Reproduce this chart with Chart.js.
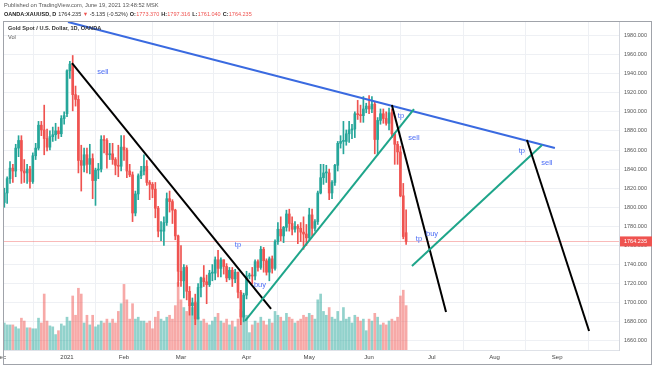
<!DOCTYPE html>
<html>
<head>
<meta charset="utf-8">
<title>XAUUSD daily</title>
<script src="https://cdn.jsdelivr.net/npm/chart.js@4.4.1/dist/chart.umd.min.js"></script>
<style>
  html, body { margin: 0; padding: 0; background: #fff; }
  #wrap { position: relative; width: 654px; height: 366px; }
</style>
</head>
<body>
<div id="wrap"><canvas id="goldChart" width="654" height="366"></canvas></div>
<script>
// bar index 0 = Jan 4 2021, one bar per trading day (Dec 1 2020 .. Jun 18 2021)
const firstBar = -22;

const opens = [
  1805,1815,1830,1841,1838,1862,1870,1838,1836,1840,1827,1854,1862,1886,1881,1872,1863,1874,1876,1880,1877,1893,
  1898,1943,1950,1918,1913,1849,1844,1855,1845,1851,1828,1839,1840,1871,1870,1855,1856,1850,1844,1843,
  1863,1860,1838,1834,1794,1814,1833,1838,1843,1826,1824,1819,1799,1775,1775,1784,1809,1806,1797,1770,
  1733,1723,1737,1712,1697,1700,1683,1716,1726,1722,1719,1731,1731,1745,1736,1745,1738,1726,1734,1725,1732,1711,1685,
  1708,1728,1729,1728,1743,1737,1756,1744,1732,1746,1736,1764,1777,1770,1779,1793,1783,1777,1780,1778,1774,1772,
  1768,1792,1778,1785,1815,1831,1836,1836,1815,1826,1844,1867,1869,1869,1877,1881,1882,1898,1897,1896,1903,
  1906,1903,1908,1871,1891,1898,1893,1888,1899,1877,1866,1858,1812,1773.37
];
const highs = [
  1820,1832,1848,1845,1866,1875,1875,1850,1845,1843,1857,1867,1890,1890,1907,1882,1880,1884,1888,1884,1896,1900,
  1944,1953,1959,1927,1917,1865,1862,1862,1866,1856,1841,1846,1875,1875,1872,1867,1867,1852,1865,1875,
  1875,1862,1845,1837,1817,1835,1843,1855,1849,1828,1826,1826,1801,1785,1790,1815,1817,1808,1798,1771,
  1760,1740,1739,1717,1705,1709,1720,1727,1739,1729,1734,1740,1748,1755,1747,1745,1741,1737,1737,1735,1732,1713,1710,
  1733,1731,1737,1745,1745,1759,1758,1746,1748,1749,1766,1784,1790,1780,1797,1798,1790,1785,1782,1784,1790,1782,
  1799,1798,1787,1817,1845,1845,1844,1840,1828,1845,1869,1875,1890,1881,1890,1887,1900,1912,1907,1916,1909,
  1917,1916,1910,1894,1903,1903,1900,1904,1903,1878,1869,1864,1825,1797.316
];
const lows = [
  1800,1804,1825,1826,1832,1853,1825,1826,1825,1820,1825,1850,1860,1875,1855,1859,1860,1869,1870,1872,1874,1887,
  1895,1935,1901,1906,1836,1817,1837,1836,1835,1809,1802,1830,1837,1857,1841,1850,1845,1834,1832,1838,
  1849,1831,1832,1785,1791,1808,1830,1834,1823,1808,1810,1789,1769,1765,1760,1781,1795,1783,1766,1717,
  1717,1705,1703,1687,1687,1677,1683,1706,1717,1699,1717,1723,1724,1727,1727,1730,1722,1724,1717,1721,1705,1677,1680,
  1704,1725,1720,1724,1733,1735,1732,1729,1723,1731,1734,1761,1765,1763,1775,1775,1771,1774,1762,1764,1756,1760,
  1766,1770,1775,1782,1814,1824,1826,1808,1809,1823,1838,1862,1856,1865,1868,1872,1873,1892,1889,1889,1899,
  1898,1899,1856,1855,1887,1888,1886,1881,1873,1845,1845,1811,1767,1761.04
];
const closes = [
  1815,1830,1841,1838,1862,1870,1838,1836,1840,1827,1854,1862,1886,1881,1872,1863,1874,1876,1880,1877,1893,1896,
  1943,1950,1918,1913,1849,1844,1855,1845,1851,1828,1839,1840,1871,1870,1855,1856,1850,1844,1843,1863,
  1860,1838,1834,1794,1814,1833,1838,1843,1826,1824,1819,1799,1775,1775,1784,1809,1806,1797,1770,1733,
  1723,1737,1712,1697,1700,1683,1716,1726,1722,1719,1731,1731,1745,1736,1745,1738,1726,1734,1725,1732,1711,1685,1708,
  1728,1729,1728,1743,1737,1756,1744,1732,1746,1736,1764,1777,1770,1779,1793,1783,1777,1780,1778,1774,1772,1768,
  1792,1778,1785,1815,1831,1836,1836,1815,1826,1844,1867,1869,1869,1877,1881,1882,1898,1897,1896,1903,1906,
  1903,1908,1871,1891,1898,1893,1888,1899,1877,1866,1858,1812,1769.37,1764.235
];
// volume, arbitrary units
const volumes = [
  28,26,26,26,24,22,33,30,23,23,22,22,33,28,58,30,25,24,16,20,27,25,
  34,30,56,36,64,58,28,36,26,36,24,26,30,28,32,28,32,28,40,48,
  68,52,32,48,32,34,30,30,28,30,22,34,40,32,30,34,36,32,46,70,
  52,44,40,46,44,50,34,30,32,28,26,30,34,38,30,28,32,26,30,24,32,42,40,
  36,18,26,30,28,34,30,26,32,28,40,36,34,30,38,34,32,28,30,32,36,34,
  38,36,32,52,58,40,36,44,34,32,40,30,44,32,34,28,36,34,30,32,20,
  32,30,38,34,26,28,26,30,32,30,34,56,62,46
];

const monthTickIdx = [-23.3, 0, 20, 40, 63, 85, 106, 128, 150, 172];
const monthTickLabels = ['Dec', '2021', 'Feb', 'Mar', 'Apr', 'May', 'Jun', 'Jul', 'Aug', 'Sep'];
const priceTicks = [1660, 1680, 1700, 1720, 1740, 1760, 1780, 1800, 1820, 1840, 1860, 1880, 1900, 1920, 1940, 1960, 1980];

// hand drawn trend lines and notes, in (bar index, price)
const trendLines = [
  { from: [0.35, 1994.1], to: [171.2, 1862.1], kind: 'blue' },
  { from: [1.75, 1951.1], to: [71.6, 1693.5], kind: 'black' },
  { from: [62.5, 1681.1], to: [121.75, 1902.9], kind: 'teal' },
  { from: [114.0, 1907.1], to: [133.0, 1690.3], kind: 'black' },
  { from: [121.05, 1738.5], to: [166.7, 1865.2], kind: 'teal' },
  { from: [161.4, 1870.5], to: [183.2, 1670.4], kind: 'black' }
];
const notes = [
  { text: 'sell', at: [12.6, 1941.7] },
  { text: 'tp', at: [60.0, 1760.5] },
  { text: 'buy', at: [67.7, 1718.6] },
  { text: 'tp', at: [117.2, 1895.6] },
  { text: 'sell', at: [121.75, 1872.6] },
  { text: 'tp', at: [123.5, 1766.8] },
  { text: 'buy', at: [128.1, 1771.9] },
  { text: 'tp', at: [159.6, 1859.0] },
  { text: 'sell', at: [168.4, 1846.4] }
];
const lineColors = { blue: '#3a6ae0', black: '#000000', teal: '#1ea58a' };

const publishedText = 'Published on TradingView.com, June 19, 2021 13:48:52 MSK';
const symbolText = 'OANDA:XAUUSD, D';
const lastText = '1764.235';
const changeText = '-5.135 (-0.52%)';
const ohlcText = [['O:', '1773.370'], ['H:', '1797.316'], ['L:', '1761.040'], ['C:', '1764.235']];
const legendTitle = 'Gold Spot / U.S. Dollar, 1D, OANDA';

const UP = '#26a69a', DOWN = '#ef5350';
const FONT = '"Liberation Sans", Arial, sans-serif';
Chart.defaults.font.family = FONT;

const isUp = closes.map((c, i) => c >= opens[i]);

const overlay = {
  id: 'overlay',
  beforeDraw(chart) {
    const c = chart.ctx;
    c.save();
    c.fillStyle = '#fff';
    c.fillRect(0, 0, chart.width, chart.height);
    c.restore();
  },
  beforeDatasetsDraw(chart) {
    const { ctx: c, chartArea: a, scales: { y } } = chart;
    const py = Math.round(y.getPixelForValue(closes[closes.length - 1])) + 0.5;
    c.save();
    c.strokeStyle = 'rgba(239,83,80,0.4)';
    c.lineWidth = 1;
    c.beginPath();
    c.moveTo(a.left, py);
    c.lineTo(a.right, py);
    c.stroke();
    c.restore();
  },
  afterDatasetsDraw(chart) {
    const { ctx: c, chartArea: a, scales: { x, y } } = chart;
    c.save();
    c.beginPath();
    c.rect(a.left, a.top, a.right - a.left, a.bottom - a.top);
    c.clip();
    c.lineWidth = 2;
    trendLines.forEach(t => {
      c.strokeStyle = lineColors[t.kind];
      c.beginPath();
      c.moveTo(x.getPixelForValue(t.from[0]), y.getPixelForValue(t.from[1]));
      c.lineTo(x.getPixelForValue(t.to[0]), y.getPixelForValue(t.to[1]));
      c.stroke();
    });
    c.font = '7.5px ' + FONT;
    c.fillStyle = '#4d6ef5';
    c.textAlign = 'center';
    c.textBaseline = 'middle';
    notes.forEach(n => c.fillText(n.text, x.getPixelForValue(n.at[0]), y.getPixelForValue(n.at[1])));
    c.restore();
  },
  afterDraw(chart) {
    const { ctx: c, chartArea: a, scales: { y } } = chart;
    c.save();
    // outer frame
    c.strokeStyle = '#a0a3aa';
    c.lineWidth = 1;
    c.strokeRect(3.5, 21.5, 648, 343);

    // last price tag
    const py = y.getPixelForValue(closes[closes.length - 1]);
    c.fillStyle = DOWN;
    c.fillRect(a.right + 1, py - 5, 32, 10);
    c.fillStyle = '#fff';
    c.font = '5.5px ' + FONT;
    c.textBaseline = 'middle';
    c.fillText(lastText, a.right + 5, py);

    // header
    c.fillStyle = '#555';
    c.font = '5.7px ' + FONT;
    c.fillText(publishedText, 4, 5.5);
    let tx = 4;
    const put = (s, color, bold, gap) => {
      c.font = (bold ? 'bold ' : '') + '5.5px ' + FONT;
      c.fillStyle = color;
      c.fillText(s, tx, 14.5);
      tx += c.measureText(s).width + gap;
    };
    put(symbolText, '#222', true, 2);
    put(lastText, '#333', false, 1.5);
    put('\u25BC', DOWN, false, 1.5);
    put(changeText, '#333', false, 2);
    ohlcText.forEach(([k, v]) => {
      put(k, '#222', true, 0.3);
      put(v, DOWN, false, 2);
    });

    // legend
    c.fillStyle = '#333';
    c.font = 'bold 5.6px ' + FONT;
    c.fillText(legendTitle, 8, 28.5);
    c.font = '5.6px ' + FONT;
    c.fillStyle = '#555';
    c.fillText('Vol', 8, 37);
    c.restore();
  }
};

const ctx = document.getElementById('goldChart').getContext('2d');
const goldChart = new Chart(ctx, {
  type: 'bar',
  data: {
    datasets: [
      {
        label: 'body',
        data: closes.map((cl, i) => ({ x: firstBar + i, y: [opens[i], cl] })),
        backgroundColor: isUp.map(u => (u ? UP : DOWN)),
        barThickness: 2,
        minBarLength: 1,
        grouped: false,
        order: 0
      },
      {
        label: 'wick',
        data: highs.map((h, i) => ({ x: firstBar + i, y: [lows[i], h] })),
        backgroundColor: isUp.map(u => (u ? UP : DOWN)),
        barThickness: 1,
        grouped: false,
        order: 1
      },
      {
        label: 'Vol',
        data: volumes.map((v, i) => ({ x: firstBar + i, y: v })),
        backgroundColor: isUp.map(u => (u ? 'rgba(38,166,154,0.5)' : 'rgba(239,83,80,0.5)')),
        barThickness: 2,
        grouped: false,
        yAxisID: 'yv',
        order: 2
      }
    ]
  },
  options: {
    responsive: false,
    animation: false,
    layout: { padding: { left: 3, top: 22, right: 0, bottom: 0 } },
    plugins: { legend: { display: false }, tooltip: { enabled: false } },
    scales: {
      x: {
        type: 'linear',
        min: -22.46,
        max: 193.7,
        offset: false,
        afterBuildTicks: s => { s.ticks = monthTickIdx.map(v => ({ value: v })); },
        afterFit: s => { s.height = 16; s.paddingLeft = 0; s.paddingRight = 0; },
        grid: { color: '#eef0f4', drawTicks: false },
        border: { color: '#dfe2e8' },
        ticks: {
          autoSkip: false,
          maxRotation: 0,
          padding: 4,
          color: '#444',
          font: { size: 6 },
          callback: (v, i) => monthTickLabels[i]
        }
      },
      y: {
        type: 'linear',
        position: 'right',
        min: 1650.5,
        max: 1994.1,
        afterBuildTicks: s => { s.ticks = priceTicks.map(v => ({ value: v })); },
        afterFit: s => { s.width = 35; s.paddingTop = 0; s.paddingBottom = 0; },
        grid: { color: '#eef0f4', drawTicks: false },
        border: { color: '#d4d7de' },
        ticks: {
          padding: 5,
          color: '#555',
          font: { size: 5.5 },
          callback: v => v.toFixed(3)
        }
      },
      yv: { type: 'linear', display: false, min: 0, max: 340 }
    }
  },
  plugins: [overlay]
});
</script>
</body>
</html>
